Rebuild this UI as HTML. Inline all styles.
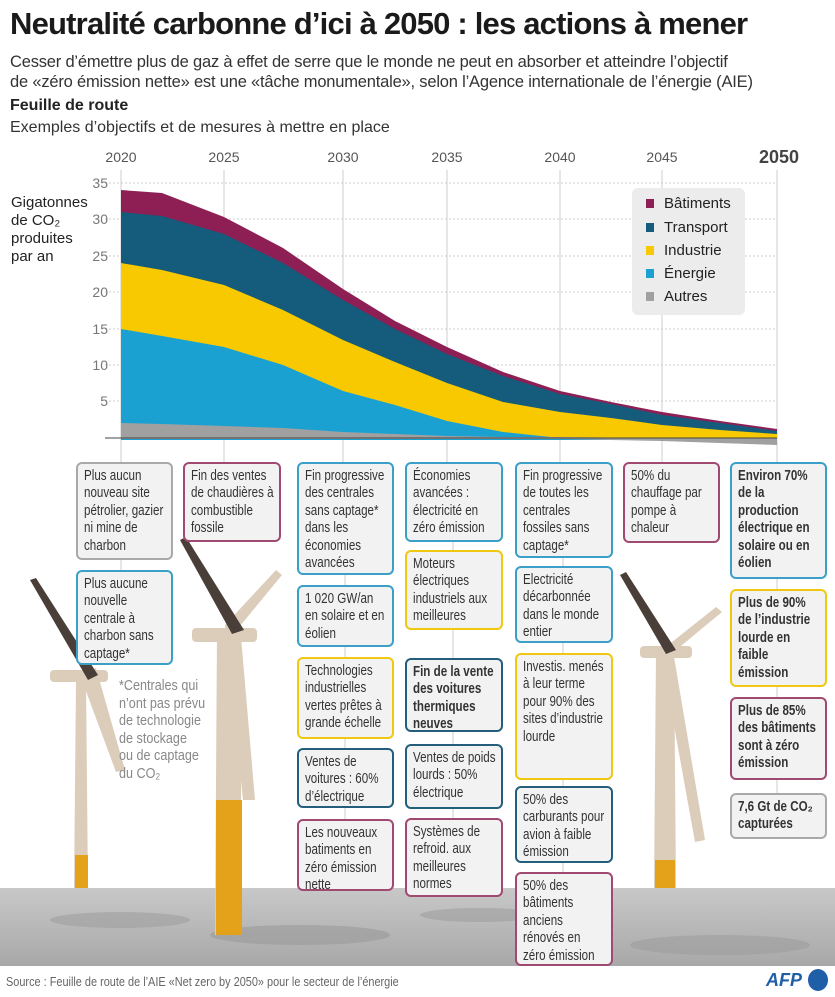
<!DOCTYPE html>
<html><head><meta charset="utf-8"><style>
body{margin:0;width:835px;height:997px;background:#fff;font-family:"Liberation Sans",sans-serif;overflow:hidden;position:relative;color:#222}
.t{position:absolute;white-space:nowrap}
.b{position:absolute;box-sizing:border-box;border:2px solid #aaa;border-radius:6px;background:#f2f2f2;padding:4px 6px;font-size:14.5px;line-height:17.4px;color:#333;overflow:hidden}
.b>div{width:126%;transform:scaleX(.8);transform-origin:0 0}
.g{border-color:#a9a9a9}.p{border-color:#a04a72}.bl{border-color:#3aa0c8}.y{border-color:#f0c810}.d{border-color:#235f7c}
.bo{font-weight:bold}
.sx{transform:scaleX(.84);transform-origin:0 0}
</style></head><body>
<div class="t" style="left:10px;top:6px;font-size:31px;font-weight:bold;letter-spacing:-0.8px;color:#1a1a1a">Neutralité carbonne d’ici à 2050 : les actions à mener</div>
<div class="t" style="left:10px;top:52px;font-size:16.5px;line-height:20px;color:#333;letter-spacing:-0.2px">Cesser d’émettre plus de gaz à effet de serre que le monde ne peut en absorber et atteindre l’objectif<br>de «zéro émission nette» est une «tâche monumentale», selon l’Agence internationale de l’énergie (AIE)</div>
<div class="t" style="left:10px;top:97px;font-size:16px;font-weight:bold">Feuille de route</div>
<div class="t" style="left:10px;top:119px;font-size:16px;color:#333">Exemples d’objectifs et de mesures à mettre en place</div>

<svg width="835" height="997" style="position:absolute;left:0;top:0">
<defs><linearGradient id="sea" x1="0" y1="0" x2="0" y2="1"><stop offset="0" stop-color="#c8c8c8"/><stop offset="1" stop-color="#a8a8a8"/></linearGradient></defs>
<rect x="0" y="888" width="835" height="78" fill="url(#sea)"/>
<ellipse cx="300" cy="935" rx="90" ry="10" fill="#999" opacity=".6"/>
<ellipse cx="120" cy="920" rx="70" ry="8" fill="#999" opacity=".5"/>
<ellipse cx="720" cy="945" rx="90" ry="10" fill="#999" opacity=".5"/>
<ellipse cx="480" cy="915" rx="60" ry="7" fill="#999" opacity=".5"/>
<g stroke="#ccc" stroke-width="1">
<line x1="121" y1="170" x2="121" y2="570"/><line x1="224" y1="170" x2="224" y2="462"/>
<line x1="343" y1="170" x2="343" y2="462"/><line x1="345" y1="462" x2="345" y2="820"/>
<line x1="447" y1="170" x2="447" y2="462"/><line x1="453" y1="462" x2="453" y2="820"/>
<line x1="560" y1="170" x2="560" y2="462"/><line x1="563" y1="462" x2="563" y2="875"/>
<line x1="662" y1="170" x2="662" y2="462"/><line x1="777" y1="170" x2="777" y2="795"/>
</g>
<g stroke="#ccc" stroke-width="1" stroke-dasharray="2,2">
<line x1="105" y1="183" x2="777" y2="183"/><line x1="105" y1="219" x2="777" y2="219"/><line x1="105" y1="256" x2="777" y2="256"/><line x1="105" y1="292" x2="777" y2="292"/><line x1="105" y1="329" x2="777" y2="329"/><line x1="105" y1="365" x2="777" y2="365"/><line x1="105" y1="401" x2="777" y2="401"/>
</g>
<g font-size="14" fill="#777" text-anchor="end" font-family="Liberation Sans">
<text x="108" y="188">35</text><text x="108" y="224">30</text><text x="108" y="261">25</text><text x="108" y="297">20</text><text x="108" y="334">15</text><text x="108" y="370">10</text><text x="108" y="406">5</text>
</g>
<g font-size="14" fill="#555" text-anchor="middle" font-family="Liberation Sans">
<text x="121" y="162">2020</text><text x="224" y="162">2025</text><text x="343" y="162">2030</text><text x="447" y="162">2035</text><text x="560" y="162">2040</text><text x="662" y="162">2045</text>
<text x="779" y="163" font-size="18" font-weight="bold" fill="#444">2050</text>
</g>
<g font-size="15" fill="#222" font-family="Liberation Sans">
<text x="11" y="207">Gigatonnes</text><text x="11" y="225">de CO₂</text><text x="11" y="243">produites</text><text x="11" y="261">par an</text>
</g>
<polygon fill="#8d1f55" points="121,190 162,193 224,217 283,248 343,289 395,321 447,347 503,372 560,391 611,402 662,412 720,421 777,429 777,438 121,438"/>
<polygon fill="#155b7c" points="121,212 162,216 224,234 283,263 343,300 395,329 447,354 503,376 560,394 611,404 662,415 720,423 777,431 777,438 121,438"/>
<polygon fill="#f8c900" points="121,263 162,270 224,285 283,310 343,340 395,362 447,383 503,402 560,412 611,418 662,425 720,430 777,434 777,438 121,438"/>
<polygon fill="#1ba0d2" points="121,329 162,336 224,347 283,365 343,391 395,405 447,421 503,432 560,438 777,438 777,440 121,440"/>
<polygon fill="#a0a0a0" points="121,423 162,424 224,426 283,428 343,432 395,434 447,436 503,437 560,437 662,438 777,438 777,445 662,441 560,439 121,439"/>
<line x1="105" y1="438" x2="777" y2="438" stroke="#444" stroke-width="1"/>
<rect x="632" y="188" width="113" height="127" rx="6" fill="#ececec"/>
<g font-size="15" fill="#222" font-family="Liberation Sans">
<rect x="646" y="199" width="8" height="9" fill="#8d1f55"/><text x="664" y="208">Bâtiments</text>
<rect x="646" y="223" width="8" height="9" fill="#155b7c"/><text x="664" y="232">Transport</text>
<rect x="646" y="246" width="8" height="9" fill="#f8c900"/><text x="664" y="255">Industrie</text>
<rect x="646" y="269" width="8" height="9" fill="#1ba0d2"/><text x="664" y="278">Énergie</text>
<rect x="646" y="292" width="8" height="9" fill="#a0a0a0"/><text x="664" y="301">Autres</text>
</g>
<g fill="#dccdbb">
<polygon points="76,680 86,680 88,888 74,888"/>
<polygon points="217,630 240,630 242,935 215,935"/>
<polygon points="656,650 674,650 676,888 654,888"/>
<polygon points="80,675 96,668 125,770 116,772"/>
<polygon points="225,625 240,625 255,800 243,800"/>
<polygon points="225,625 235,632 282,575 276,570"/>
<polygon points="660,648 672,645 705,840 695,842"/>
<polygon points="662,650 670,655 722,612 716,607"/>
<rect x="50" y="670" width="58" height="12" rx="4"/>
<rect x="192" y="628" width="65" height="14" rx="4"/>
<rect x="640" y="646" width="52" height="12" rx="4"/>
</g>
<g fill="#4a3f38">
<polygon points="30,580 36,578 98,675 88,680"/>
<polygon points="180,540 186,537 244,630 232,634"/>
<polygon points="620,575 626,572 676,650 666,654"/>
</g>
<rect x="216" y="800" width="26" height="135" fill="#e3a21a"/>
<rect x="75" y="855" width="13" height="33" fill="#e3a21a"/>
<rect x="655" y="860" width="20" height="28" fill="#e3a21a"/>
</svg>

<div class="b g" style="left:76px;top:462px;width:97px;height:98px"><div>Plus aucun nouveau site pétrolier, gazier ni mine de charbon</div></div>
<div class="b bl" style="left:76px;top:570px;width:97px;height:95px"><div>Plus aucune nouvelle centrale à charbon sans captage*</div></div>
<div class="t sx" style="left:119px;top:677px;font-size:15px;line-height:17.5px;color:#888">*Centrales qui<br>n’ont pas prévu<br>de technologie<br>de stockage<br>ou de captage<br>du CO₂</div>
<div class="b p" style="left:183px;top:462px;width:98px;height:80px"><div>Fin des ventes de chaudières à combustible fossile</div></div>
<div class="b bl" style="left:297px;top:462px;width:97px;height:113px"><div>Fin progressive des centrales sans captage* dans les économies avancées</div></div>
<div class="b bl" style="left:297px;top:585px;width:97px;height:62px"><div>1 020 GW/an en solaire et en éolien</div></div>
<div class="b y" style="left:297px;top:657px;width:97px;height:82px"><div>Technologies industrielles vertes prêtes à grande échelle</div></div>
<div class="b d" style="left:297px;top:748px;width:97px;height:60px"><div>Ventes de voitures : 60% d’électrique</div></div>
<div class="b p" style="left:297px;top:819px;width:97px;height:72px"><div>Les nouveaux batiments en zéro émission nette</div></div>
<div class="b bl" style="left:405px;top:462px;width:98px;height:80px"><div>Économies avancées : électricité en zéro émission</div></div>
<div class="b y" style="left:405px;top:550px;width:98px;height:80px"><div>Moteurs électriques industriels aux meilleures normes</div></div>
<div class="b d bo" style="left:405px;top:658px;width:98px;height:74px"><div>Fin de la vente des voitures thermiques neuves</div></div>
<div class="b d" style="left:405px;top:744px;width:98px;height:65px"><div>Ventes de poids lourds : 50% électrique</div></div>
<div class="b p" style="left:405px;top:818px;width:98px;height:79px"><div>Systèmes de refroid. aux meilleures normes</div></div>
<div class="b bl" style="left:515px;top:462px;width:98px;height:96px"><div>Fin progressive de toutes les centrales fossiles sans captage*</div></div>
<div class="b bl" style="left:515px;top:566px;width:98px;height:77px"><div>Electricité décarbonnée dans le monde entier</div></div>
<div class="b y" style="left:515px;top:653px;width:98px;height:127px"><div>Investis. menés à leur terme pour 90% des sites d’industrie lourde</div></div>
<div class="b d" style="left:515px;top:786px;width:98px;height:77px"><div>50% des carburants pour avion à faible émission</div></div>
<div class="b p" style="left:515px;top:872px;width:98px;height:94px"><div>50% des bâtiments anciens rénovés en zéro émission</div></div>
<div class="b p" style="left:623px;top:462px;width:97px;height:81px"><div>50% du chauffage par pompe à chaleur</div></div>
<div class="b bl bo" style="left:730px;top:462px;width:97px;height:117px"><div>Environ 70% de la production électrique en solaire ou en éolien</div></div>
<div class="b y bo" style="left:730px;top:589px;width:97px;height:98px"><div>Plus de 90% de l’industrie lourde en faible émission</div></div>
<div class="b p bo" style="left:730px;top:697px;width:97px;height:83px"><div>Plus de 85% des bâtiments sont à zéro émission</div></div>
<div class="b g bo" style="left:730px;top:793px;width:97px;height:46px"><div>7,6 Gt de CO₂ capturées</div></div>

<div class="t sx" style="left:6px;top:974px;font-size:13px;color:#666">Source : Feuille de route de l’AIE «Net zero by 2050» pour le secteur de l’énergie</div>
<div class="t" style="left:766px;top:970px;font-size:18px;font-weight:bold;font-style:italic;color:#1e5fa8">AFP</div>
<div style="position:absolute;left:808px;top:969px;width:20px;height:22px;border-radius:50%;background:#1e5fa8"></div>
</body></html>
